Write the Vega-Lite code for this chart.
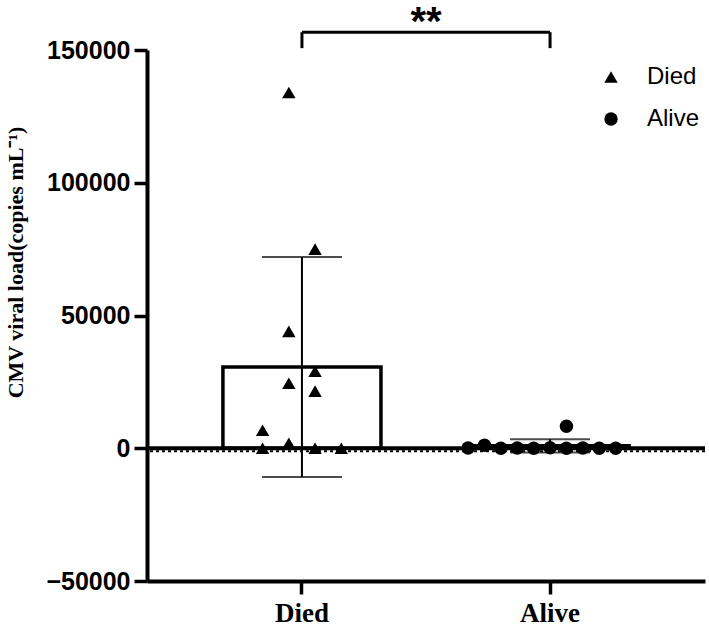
{
  "$schema": "https://vega.github.io/schema/vega-lite/v6.json",
  "autosize": "none",
  "width": 558,
  "height": 531,
  "padding": {"left": 147, "top": 50, "right": 4, "bottom": 45},
  "background": "white",
  "config": {
    "view": {"stroke": null},
    "axis": {"domainColor": "black", "domainWidth": 4, "tickColor": "black", "tickWidth": 3.5, "tickSize": 13, "labelColor": "black", "grid": false, "titleColor": "black"},
    "title": {"font": "Liberation Sans", "fontSize": 40, "fontWeight": "bold", "color": "black", "anchor": "middle", "offset": -12}
  },
  "title": "**",
  "resolve": {"scale": {"xOffset": "independent"}},
  "datasets": {
    "pts": [
      {"group": "Died", "value": 134000, "slot": -0.8},
      {"group": "Died", "value": 75000, "slot": 0.8},
      {"group": "Died", "value": 44000, "slot": -0.8},
      {"group": "Died", "value": 29000, "slot": 0.8},
      {"group": "Died", "value": 24500, "slot": -0.8},
      {"group": "Died", "value": 21500, "slot": 0.8},
      {"group": "Died", "value": 6800, "slot": -2.4},
      {"group": "Died", "value": 1900, "slot": -0.8},
      {"group": "Died", "value": 0, "slot": -2.4},
      {"group": "Died", "value": 0, "slot": 0.8},
      {"group": "Died", "value": 0, "slot": 2.4},
      {"group": "Alive", "value": 100, "slot": -5},
      {"group": "Alive", "value": 1100, "slot": -4},
      {"group": "Alive", "value": 0, "slot": -3},
      {"group": "Alive", "value": 100, "slot": -2},
      {"group": "Alive", "value": 0, "slot": -1},
      {"group": "Alive", "value": 200, "slot": 0},
      {"group": "Alive", "value": 0, "slot": 1},
      {"group": "Alive", "value": 8300, "slot": 1},
      {"group": "Alive", "value": 100, "slot": 2},
      {"group": "Alive", "value": 0, "slot": 3},
      {"group": "Alive", "value": 0, "slot": 4}
    ],
    "bracket": [
      {"from": "Died", "to": "Alive", "low": 150700, "high": 156700}
    ]
  },
  "layer": [
    {
      "data": {"name": "pts"},
      "mark": {"type": "bar", "fill": "white", "stroke": "black", "strokeWidth": 3.5, "width": {"band": 1}},
      "encoding": {
        "x": {
          "field": "group", "type": "nominal",
          "scale": {"domain": ["Died", "Alive"], "paddingInner": 0.363, "paddingOuter": 0.306},
          "axis": {"title": null, "labelAngle": 0, "labelFont": "Liberation Serif", "labelFontWeight": "bold", "labelFontSize": 27, "labelPadding": 6}
        },
        "y": {
          "aggregate": "mean", "field": "value", "type": "quantitative",
          "title": "CMV viral load(copies mL⁻¹)",
          "scale": {"domain": [-50000, 150000], "nice": false, "zero": false},
          "axis": {
            "values": [-50000, 0, 50000, 100000, 150000], "format": "d",
            "labelFont": "Liberation Sans", "labelFontWeight": "bold", "labelFontSize": 25, "labelPadding": 4,
            "titleFont": "Liberation Serif", "titleFontWeight": "bold", "titleFontSize": 22,
            "titleY": 212, "titleX": -120
          }
        }
      }
    },
    {
      "data": {"name": "pts"},
      "mark": {"type": "errorbar", "extent": "stdev", "color": "black", "ticks": {"size": 80, "thickness": 2, "color": "black"}, "rule": {"strokeWidth": 2, "color": "black"}},
      "encoding": {
        "x": {"field": "group", "type": "nominal", "title": null},
        "y": {"field": "value", "type": "quantitative", "title": "CMV viral load(copies mL⁻¹)"}
      }
    },
    {
      "data": {"values": [{}]},
      "mark": {"type": "rule", "strokeWidth": 4, "color": "black"},
      "encoding": {"y": {"datum": 0, "title": "CMV viral load(copies mL⁻¹)"}}
    },
    {
      "data": {"values": [{}]},
      "mark": {"type": "rule", "strokeWidth": 2, "color": "black", "strokeDash": [3, 3], "yOffset": 3},
      "encoding": {"y": {"datum": 0, "title": "CMV viral load(copies mL⁻¹)"}}
    },
    {
      "data": {"name": "pts"},
      "mark": {"type": "point", "filled": true, "color": "black", "opacity": 1, "size": 180, "clip": false},
      "encoding": {
        "x": {"field": "group", "type": "nominal", "title": null},
        "y": {"field": "value", "type": "quantitative", "title": "CMV viral load(copies mL⁻¹)"},
        "xOffset": {"field": "slot", "type": "quantitative", "scale": {"domain": [-4.82, 4.82], "nice": false, "zero": false}},
        "shape": {
          "field": "group", "type": "nominal",
          "scale": {"domain": ["Died", "Alive"], "range": ["triangle-up", "circle"]},
          "legend": {"title": null, "orient": "none", "legendX": 452, "legendY": 15, "labelFont": "Liberation Sans", "labelFontSize": 24, "labelColor": "black", "symbolSize": 180, "symbolFillColor": "black", "symbolStrokeColor": "black", "labelOffset": 24, "rowPadding": 18}
        }
      }
    },
    {
      "data": {"name": "bracket"},
      "mark": {"type": "rule", "strokeWidth": 3, "color": "black", "clip": false},
      "encoding": {
        "x": {"field": "from", "type": "nominal", "title": null},
        "x2": {"field": "to"},
        "y": {"field": "high", "type": "quantitative", "title": "CMV viral load(copies mL⁻¹)"}
      }
    },
    {
      "data": {"name": "bracket"},
      "mark": {"type": "rule", "strokeWidth": 3, "color": "black", "clip": false},
      "encoding": {
        "x": {"field": "from", "type": "nominal", "title": null},
        "y": {"field": "low", "type": "quantitative", "title": "CMV viral load(copies mL⁻¹)"},
        "y2": {"field": "high"}
      }
    },
    {
      "data": {"name": "bracket"},
      "mark": {"type": "rule", "strokeWidth": 3, "color": "black", "clip": false},
      "encoding": {
        "x": {"field": "to", "type": "nominal", "title": null},
        "y": {"field": "low", "type": "quantitative", "title": "CMV viral load(copies mL⁻¹)"},
        "y2": {"field": "high"}
      }
    }
  ]
}
